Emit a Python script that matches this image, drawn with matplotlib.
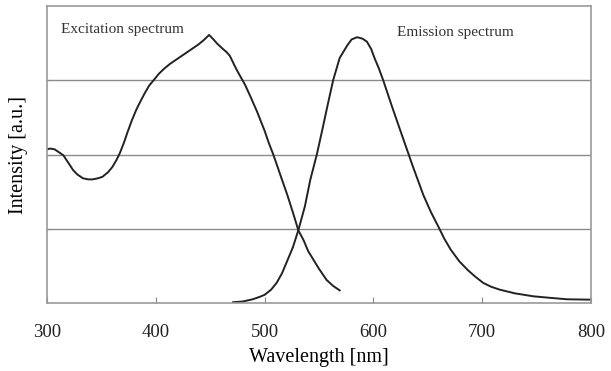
import numpy as np
import matplotlib.pyplot as plt

font = ["Liberation Serif", "DejaVu Serif"]

# excitation spectrum (wavelength nm, intensity a.u.)
exc_wl = [300, 303, 307, 311, 315, 320, 324, 328, 333, 338, 342, 347, 351, 356,
          360, 364, 367, 371, 374, 378, 382, 385, 390, 394, 398, 403, 408, 413,
          418, 422, 428, 434, 439, 444, 449, 453, 456, 461, 465, 468, 471, 474,
          477, 482, 487, 493, 500, 504, 508, 512, 516, 521, 526, 531, 536, 540,
          545, 550, 557, 563, 569]
exc_int = [2.07, 2.08, 2.07, 2.03, 1.99, 1.88, 1.79, 1.73, 1.68, 1.665, 1.665,
           1.68, 1.70, 1.76, 1.83, 1.93, 2.02, 2.17, 2.30, 2.46, 2.60, 2.69,
           2.83, 2.93, 3.0, 3.09, 3.16, 3.22, 3.27, 3.31, 3.37, 3.43, 3.48,
           3.54, 3.61, 3.55, 3.50, 3.43, 3.38, 3.33, 3.24, 3.15, 3.07, 2.94,
           2.78, 2.58, 2.32, 2.15, 2.0, 1.83, 1.66, 1.45, 1.22, 0.98, 0.84,
           0.70, 0.58, 0.46, 0.31, 0.23, 0.17]

# emission spectrum
emi_wl = [471, 480, 489, 495, 500, 506, 511, 516, 520, 526, 531, 537, 542, 548,
          553, 558, 563, 569, 576, 580, 585, 590, 594, 598, 601, 605, 609, 617,
          626, 636, 646, 653, 660, 665, 671, 679, 687, 694, 701, 708, 716, 730,
          747, 762, 778, 799]
emi_int = [0.01, 0.02, 0.05, 0.08, 0.11, 0.18, 0.27, 0.40, 0.54, 0.75, 0.98,
           1.30, 1.66, 2.0, 2.33, 2.67, 3.0, 3.30, 3.47, 3.55, 3.58, 3.56,
           3.52, 3.42, 3.30, 3.16, 3.0, 2.65, 2.27, 1.85, 1.45, 1.22, 1.02,
           0.87, 0.72, 0.56, 0.44, 0.35, 0.27, 0.22, 0.18, 0.13, 0.09, 0.07,
           0.05, 0.045]

x_ticks = [300, 400, 500, 600, 700, 800]

fig = plt.figure(figsize=(6.11, 3.71), dpi=100)
ax = fig.add_axes([0.0769, 0.1833, 0.8904, 0.8005])

ax.plot(exc_wl, exc_int, color="#222222", linewidth=1.4)
ax.plot(emi_wl, emi_int, color="#222222", linewidth=1.4)

ax.set_xlim(300, 800)
ax.set_ylim(0, 4)
ax.set_xticks(x_ticks)
ax.set_xticklabels([str(t) for t in x_ticks], family=font, fontsize=13.5,
                   color="#222222")
ax.set_yticks([1, 2, 3])
ax.set_yticklabels([])
ax.tick_params(axis="x", direction="in", length=4, color="#888888", pad=15)
ax.tick_params(axis="y", direction="in", length=2, color="#888888")
ax.grid(axis="y", color="#8a8a8a", linewidth=1.0)
ax.set_axisbelow(True)
for s in ax.spines.values():
    s.set_color("#999999")
    s.set_linewidth(1.2)

ax.set_xlabel("Wavelength [nm]", family=font, fontsize=14.5, labelpad=5)
ax.set_ylabel("Intensity [a.u.]", family=font, fontsize=14.5, labelpad=10)

ax.text(313, 3.68, "Excitation spectrum", family=font, fontsize=11,
        color="#333333", va="center")
ax.text(622, 3.64, "Emission spectrum", family=font, fontsize=11,
        color="#333333", va="center")

plt.savefig("out.png", dpi=100)
